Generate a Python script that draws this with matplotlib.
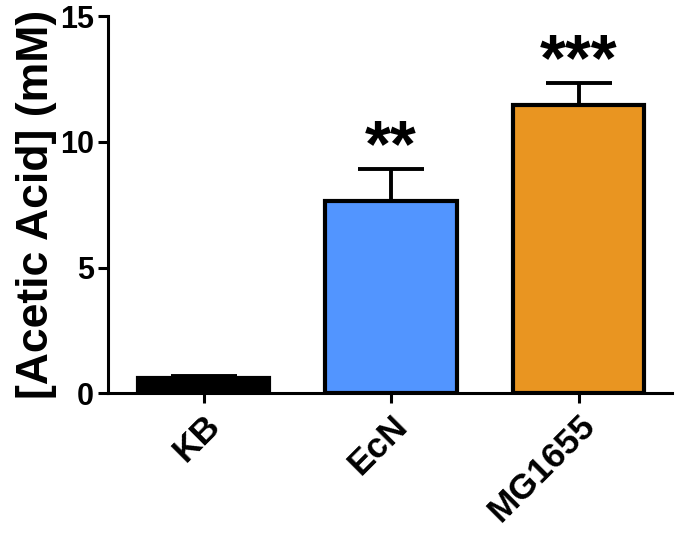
import matplotlib.pyplot as plt
import numpy as np

plt.rcParams['font.family'] = ['Liberation Sans', 'DejaVu Sans']
plt.rcParams['font.weight'] = 'bold'

strains = ['KB', 'EcN', 'MG1655']
acetic_acid = [0.6, 7.63, 11.45]
sem = [0.08, 1.3, 0.88]
stars = ['', '**', '***']
colors = ['#000000', '#5295FF', '#E99521']

fig = plt.figure(figsize=(6.75, 5.35), dpi=100)
ax = fig.add_axes([0.16, 0.265, 0.836, 0.705])

x = np.arange(len(strains))
ax.bar(x, acetic_acid, width=0.7, color=colors, edgecolor='black', linewidth=3, zorder=2)
ax.errorbar(x, acetic_acid, yerr=[np.zeros(len(sem)), sem], fmt='none', ecolor='black',
            elinewidth=2.8, capsize=24, capthick=2.8, zorder=1)

# significance stars above the error bars
for xi, val, err, s in zip(x, acetic_acid, sem, stars):
    if s:
        ax.text(xi, val + err - 0.45, s, ha='center', va='bottom', fontsize=48, fontweight='bold')

ax.set_xlim(-0.51, 2.5)
ax.set_ylim(0, 15)
ax.set_yticks([0, 5, 10, 15])
ax.set_xticks(x)
ax.set_xticklabels(strains, rotation=45, ha='right', rotation_mode='anchor', fontsize=25.5, fontweight='bold')
ax.tick_params(axis='y', labelsize=22, width=2.2, length=7, pad=3)
ax.tick_params(axis='x', width=2.2, length=7, pad=4)
for lbl in ax.get_yticklabels():
    lbl.set_fontweight('bold')
ax.set_ylabel('[Acetic Acid] (mM)', fontsize=32, fontweight='bold', labelpad=2)

ax.spines['top'].set_visible(False)
ax.spines['right'].set_visible(False)
ax.spines['left'].set_linewidth(2.2)
ax.spines['bottom'].set_linewidth(2.2)

fig.savefig('out.png', dpi=100)
